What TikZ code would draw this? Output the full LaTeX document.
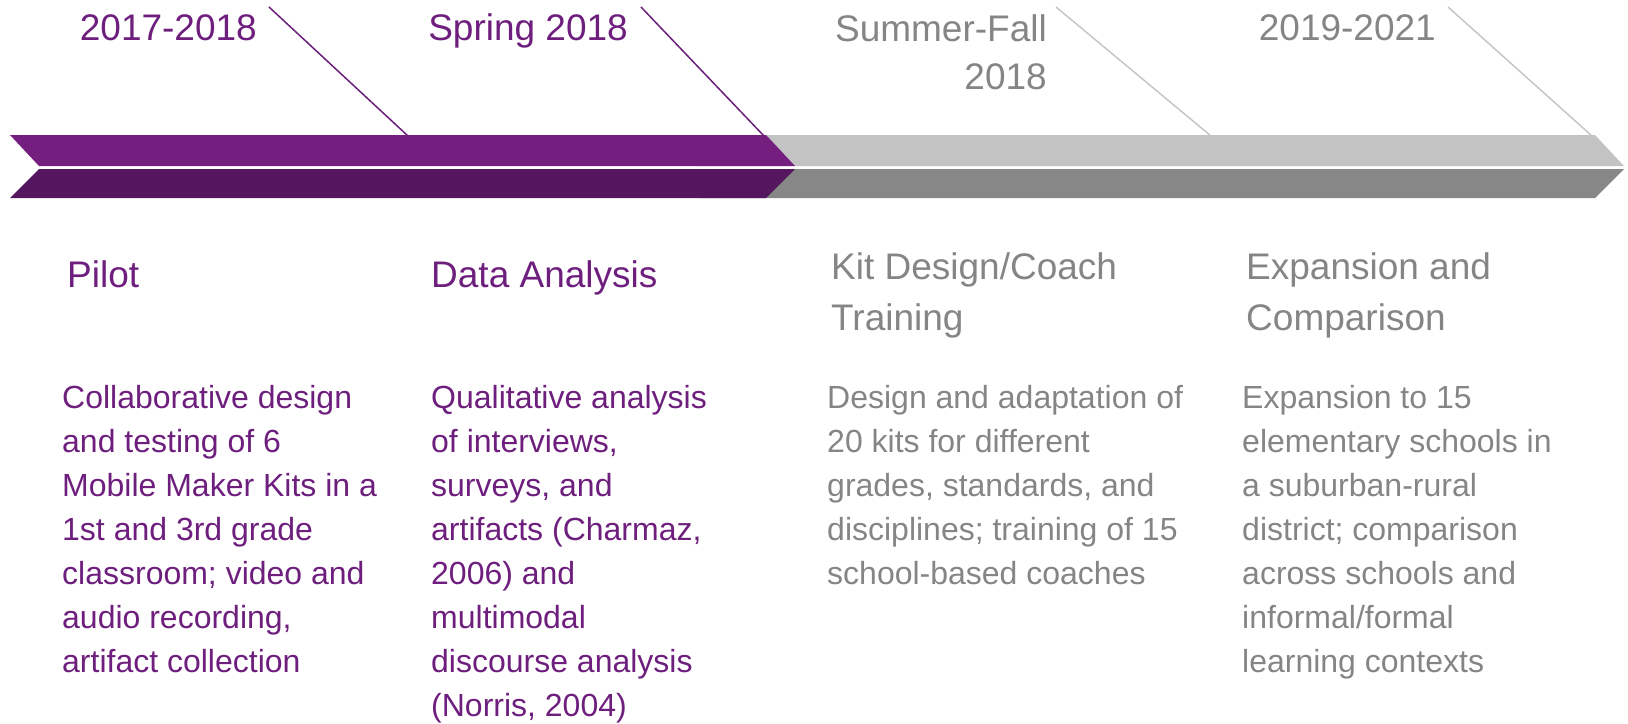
\documentclass[tikz,border=0pt]{standalone}
\usepackage{fontspec}
\setmainfont{Liberation Sans}
\newfontfamily\bodyfont{Liberation Sans}
\definecolor{purTop}{HTML}{741E80}
\definecolor{purBot}{HTML}{551660}
\definecolor{gryTop}{HTML}{C3C3C3}
\definecolor{gryBot}{HTML}{878787}
\definecolor{purTxt}{HTML}{6E1F7E}
\definecolor{gryTxt}{HTML}{858585}
\definecolor{purLine}{HTML}{6A1F7A}
\definecolor{gryLine}{HTML}{C6C6C6}
\tikzset{
  datelbl/.style={anchor=base east, inner sep=0pt, align=right,
    font=\fontsize{37pt}{48pt}\selectfont},
  headlbl/.style={anchor=base west, inner sep=0pt, align=left,
    font=\fontsize{37pt}{51pt}\selectfont},
  bodylbl/.style={anchor=base west, inner sep=0pt, align=left,
    font=\bodyfont\fontsize{32pt}{44pt}\selectfont},
  tick/.style={line width=1.5pt},
}
\begin{document}
\begin{tikzpicture}[x=1pt,y=-1pt]
\useasboundingbox (0,0) rectangle (1628,723);
% bands
\fill[gryTop] (700,135) -- (1595,135) -- (1624,166) -- (700,166) -- cycle;
\fill[gryBot] (700,169) -- (1624,169) -- (1595,198) -- (700,198) -- cycle;
\fill[purTop] (10,135) -- (766,135) -- (795,166) -- (39,166) -- cycle;
\fill[purBot] (39,169) -- (795,169) -- (766,198) -- (10,198) -- cycle;
% date labels (base anchor = last line baseline)
\node[datelbl, text=purTxt] (d1) at (257,40) {2017-2018};
\node[datelbl, text=purTxt] (d2) at (628,40) {Spring 2018};
\node[datelbl, text=gryTxt] (d3) at (1047,89) {Summer-Fall\\2018};
\node[datelbl, text=gryTxt] (d4) at (1436,40) {2019-2021};
% tick lines
\coordinate (t1a) at (269,7);  \coordinate (t1b) at (408,136);
\coordinate (t2a) at (641,7);  \coordinate (t2b) at (764,136);
\coordinate (t3a) at (1056,7); \coordinate (t3b) at (1211,136);
\coordinate (t4a) at (1448,7); \coordinate (t4b) at (1592,136);
\draw[tick, purLine] (t1a) -- (t1b);
\draw[tick, purLine] (t2a) -- (t2b);
\draw[tick, gryLine] (t3a) -- (t3b);
\draw[tick, gryLine] (t4a) -- (t4b);
% headings
\node[headlbl, text=purTxt] (h1) at (67,287) {Pilot};
\node[headlbl, text=purTxt] (h2) at (431,287) {Data Analysis};
\node[headlbl, text=gryTxt] (h3) at (831,330) {Kit Design/Coach\\Training};
\node[headlbl, text=gryTxt] (h4) at (1246,330) {Expansion and\\Comparison};
% bodies
\node[bodylbl, text=purTxt] (b1) at (62,672) {Collaborative design\\and testing of 6\\Mobile Maker Kits in a\\1st and 3rd grade\\classroom; video and\\audio recording,\\artifact collection};
\node[bodylbl, text=purTxt] (b2) at (431,716) {Qualitative analysis\\of interviews,\\surveys, and\\artifacts (Charmaz,\\2006) and\\multimodal\\discourse analysis\\(Norris, 2004)};
\node[bodylbl, text=gryTxt] (b3) at (827,584) {Design and adaptation of\\20 kits for different\\grades, standards, and\\disciplines; training of 15\\school-based coaches};
\node[bodylbl, text=gryTxt] (b4) at (1242,672) {Expansion to 15\\elementary schools in\\a suburban-rural\\district; comparison\\across schools and\\informal/formal\\learning contexts};
\end{tikzpicture}
\end{document}
